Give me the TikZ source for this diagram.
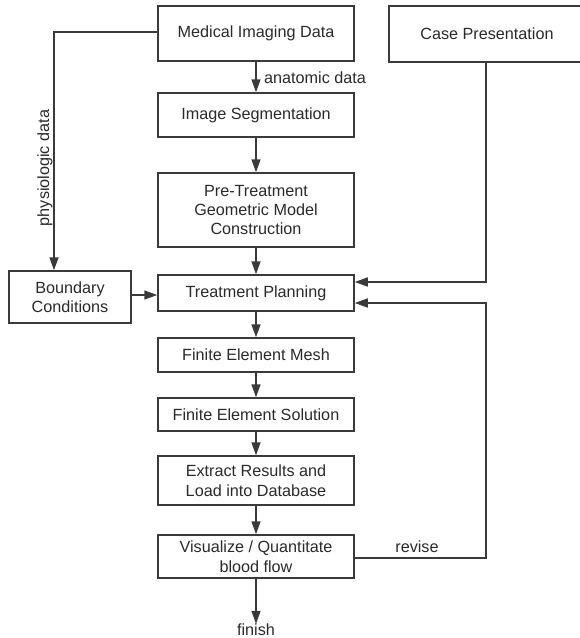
\documentclass[tikz,border=0pt]{standalone}
\usepackage{fontspec}
\setmainfont{Liberation Sans}
\usetikzlibrary{arrows.meta}
\definecolor{ln}{HTML}{3A3A3A}
\definecolor{tx}{HTML}{2A2A2A}
\begin{document}
\begin{tikzpicture}[x=1pt,y=-1pt,
  box/.style={draw=ln,line width=1.5pt,minimum width=196pt,text=tx,align=center,inner sep=0pt,
    font=\fontsize{16.2pt}{19.5pt}\selectfont},
  lbl/.style={text=tx,inner sep=0pt,font=\fontsize{16.2pt}{19.5pt}\selectfont},
  arr/.style={draw=ln,line width=1.5pt,-{Triangle[length=13pt,width=9pt]}},
  con/.style={draw=ln,line width=1.5pt}]
\clip (0,0) rectangle (580,638);
\useasboundingbox (0,0) rectangle (580,638);
\node[box,minimum height=55pt] (mid) at (256,33.5) {Medical Imaging Data};
\node[box,minimum height=56pt] (cp) at (487,34) {Case Presentation};
\node[box,minimum height=44pt] (seg) at (256,115) {Image Segmentation};
\node[box,minimum height=74pt] (pre) at (256,210) {Pre-Treatment\\Geometric Model\\Construction};
\node[box,minimum width=122pt,minimum height=52pt] (bc) at (70,297) {Boundary\\Conditions};
\node[box,minimum height=36pt] (tp) at (256,293) {Treatment Planning};
\node[box,minimum height=34pt] (fem) at (256,355) {Finite Element Mesh};
\node[box,minimum height=33pt] (fes) at (256,414.5) {Finite Element Solution};
\node[box,minimum height=49pt] (ext) at (256,480.5) {Extract Results and\\Load into Database};
\node[box,minimum height=43pt] (vis) at (256,556.5) {Visualize / Quantitate\\blood flow};
\node[lbl] (fin) at (256,630) {finish};
\node[lbl,anchor=west] (ana) at (264,78) {anatomic data};
\node[lbl,rotate=90] (phys) at (45,168) {physiologic data};
\node[lbl] (rev) at (417,547) {revise};
\coordinate (pl) at (54,32);
\coordinate (rl) at (486,0);
\draw[arr] (mid) -- (seg);
\draw[arr] (seg) -- (pre);
\draw[arr] (pre) -- (tp);
\draw[arr] (tp) -- (fem);
\draw[arr] (fem) -- (fes);
\draw[arr] (fes) -- (ext);
\draw[arr] (ext) -- (vis);
\draw[arr] (vis) -- (fin);
\draw[arr] (mid.west |- pl) -- (pl) -- (pl |- bc.north);
\draw[arr] (bc.east |- 0,295) -- (tp.west |- 0,295);
\draw[arr] (cp.south -| rl) -- (rl |- 0,282) -- (tp.east |- 0,282);
\draw[arr] (vis.east |- 0,558) -- (rl |- 0,558) -- (rl |- 0,303) -- (tp.east |- 0,303);
\end{tikzpicture}
\end{document}
